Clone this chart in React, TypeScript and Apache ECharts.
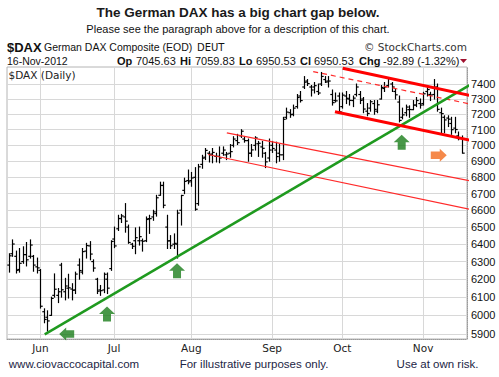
import React, { useEffect, useRef } from "react";
import * as echarts from "echarts";

// ---------- data ----------
const firstDay = "2012-05-21";
const lastDay = "2012-11-16";

function tradingDays(from: string, to: string): string[] {
  const out: string[] = [];
  const d = new Date(from + "T12:00:00Z");
  const end = new Date(to + "T12:00:00Z");
  while (d <= end) {
    const wd = d.getUTCDay();
    if (wd !== 0 && wd !== 6) out.push(d.toISOString().slice(0, 10));
    d.setUTCDate(d.getUTCDate() + 1);
  }
  return out;
}
const dates = tradingDays(firstDay, lastDay);

const opens = [
  6280, 6345, 6330, 6255, 6300, 6340, 6330, 6330, 6270,
  6250, 6020, 5990, 6000, 6110, 6110, 6280, 6130, 6150, 6145, 6140, 6280, 6240, 6360, 6390, 6300, 6200, 6140, 6140, 6200, 6260,
  6430, 6490, 6550, 6560, 6500, 6400, 6420, 6420, 6420, 6420, 6550, 6560, 6580, 6690, 6750, 6500, 6420, 6400, 6400, 6600, 6720, 6780,
  6780, 6800, 6640, 6880, 6925, 6950, 6945, 6930, 6930, 6950, 6940, 6950, 7000, 7030, 7060, 7040, 7030, 6950, 7000, 7010, 6990, 6950, 6920,
  7000, 6970, 6950, 6940, 7180, 7210, 7200, 7250, 7320, 7380, 7420, 7380, 7380, 7350, 7400, 7430, 7420, 7330, 7290, 7320,
  7250, 7320, 7300, 7290, 7330, 7330, 7300, 7220, 7240, 7270, 7220, 7300, 7370, 7390, 7400, 7350, 7280, 7180, 7210, 7230, 7230, 7260, 7270,
  7270, 7350, 7330, 7330, 7380, 7210, 7180, 7175, 7140, 7110, 7060, 7045.63,
];
const highs = [
  6345, 6425, 6360, 6375, 6385, 6410, 6425, 6335, 6320,
  6255, 6036, 6025, 6100, 6230, 6148, 6290, 6205, 6228, 6175, 6240, 6315, 6375, 6405, 6415, 6310, 6205, 6165, 6235, 6235, 6420,
  6500, 6570, 6575, 6640, 6512, 6405, 6495, 6500, 6430, 6560, 6570, 6600, 6690, 6770, 6770, 6570, 6450, 6460, 6600, 6690, 6795, 6845,
  6830, 6860, 6880, 6937, 6980, 6960, 6980, 6950, 6990, 6990, 6955, 7005, 7055, 7070, 7100, 7055, 7040, 7005, 7055, 7025, 7025, 6955, 7040,
  7025, 7020, 7005, 7180, 7240, 7230, 7260, 7330, 7350, 7450, 7430, 7390, 7410, 7400, 7478, 7450, 7450, 7360, 7340, 7340,
  7340, 7350, 7330, 7320, 7400, 7350, 7310, 7270, 7290, 7290, 7290, 7390, 7410, 7440, 7410, 7370, 7320, 7240, 7260, 7255, 7290, 7310, 7300,
  7345, 7390, 7345, 7430, 7400, 7240, 7190, 7190, 7180, 7180, 7085, 7059.83,
];
const lows = [
  6240, 6330, 6235, 6240, 6290, 6275, 6320, 6245, 6235,
  6040, 5960, 5915, 6000, 6100, 6070, 6100, 6085, 6095, 6085, 6120, 6200, 6230, 6320, 6310, 6245, 6120, 6110, 6125, 6120, 6250,
  6380, 6480, 6527, 6470, 6405, 6375, 6345, 6395, 6360, 6415, 6463, 6540, 6565, 6690, 6615, 6375, 6375, 6375, 6320, 6512, 6700, 6760,
  6745, 6600, 6630, 6856, 6910, 6895, 6890, 6895, 6890, 6937, 6910, 6925, 6990, 7005, 7050, 7020, 6900, 6930, 6970, 6930, 6925, 6860, 6900,
  6955, 6890, 6900, 6910, 7170, 7180, 7190, 7240, 7280, 7370, 7390, 7320, 7340, 7330, 7390, 7410, 7380, 7260, 7280, 7215,
  7240, 7270, 7260, 7250, 7320, 7270, 7210, 7190, 7220, 7200, 7210, 7300, 7350, 7380, 7350, 7300, 7150, 7170, 7190, 7180, 7230, 7250, 7240,
  7260, 7320, 7290, 7300, 7220, 7080, 7080, 7120, 7070, 7080, 7035, 6950.53,
];
const closes = [
  6333, 6401, 6250, 6290, 6340, 6310, 6395, 6280, 6264,
  6050, 5978, 5970, 6093, 6144, 6130, 6141, 6162, 6152, 6138, 6229, 6249, 6357, 6392, 6343, 6263, 6133, 6136, 6228, 6150, 6416,
  6390, 6551, 6566, 6535, 6410, 6388, 6438, 6444, 6417, 6545, 6550, 6590, 6675, 6750, 6630, 6419, 6391, 6405, 6583, 6689, 6775, 6772,
  6796, 6606, 6865, 6919, 6968, 6940, 6955, 6930, 6920, 6970, 6945, 6960, 7040, 7017, 7090, 7030, 6950, 6971, 7047, 7013, 6981, 6896, 6970,
  6980, 6929, 6940, 7167, 7214, 7197, 7240, 7310, 7290, 7412, 7403, 7360, 7389, 7340, 7451, 7413, 7420, 7276, 7288, 7216,
  7326, 7305, 7291, 7306, 7380, 7291, 7234, 7205, 7282, 7232, 7262, 7377, 7380, 7437, 7380, 7328, 7160, 7196, 7247, 7231, 7260, 7290, 7260,
  7335, 7363, 7327, 7377, 7232, 7204, 7163, 7168, 7100, 7101, 7043, 6950.53,
];

const yTicks = [5900, 6000, 6100, 6200, 6300, 6400, 6500, 6600, 6700, 6800, 6900, 7000, 7100, 7200, 7300, 7400];
const monthLabels = ["Jun", "Jul", "Aug", "Sep", "Oct", "Nov"];

// trend lines: [trading-day index, price]
const greenTrend = [[10.24, 5898], [131.6, 7397]];
const redChannelTop = [[95.1, 7507], [139.6, 7282]];
const redChannelBottom = [[92.9, 7216], [139.6, 6994]];
const redDashed = [[86.7, 7484], [139.6, 7228]];
const augChannelTop = [[62.1, 7079], [139.6, 6744]];
const augChannelBottom = [[56.8, 6942], [139.6, 6569]];

// annotation arrows: [trading-day index, price]
const upArrows = [[27.98, 6008], [47.92, 6248], [111.9, 7020]];
const leftArrows = [[16.5, 5900]];
const rightArrows = [[122.46, 6937]];

// ---------- derived ----------
const monthStarts: number[] = [];
dates.forEach((d, i) => {
  if (i > 0 && d.slice(5, 7) !== dates[i - 1].slice(5, 7)) monthStarts.push(i);
});
const monthLabelAt: Record<number, string> = {};
monthStarts.forEach((idx, k) => (monthLabelAt[idx] = monthLabels[k]));

const ohlc = dates.map((_, i) => [i, opens[i], highs[i], lows[i], closes[i]]);

const FONT = '"Liberation Sans", Arial, sans-serif';
const VFONT = '"DejaVu Sans", Verdana, sans-serif';

export default function App() {
  const ref = useRef<HTMLDivElement>(null);

  useEffect(() => {
    if (!ref.current) return;
    const chart = echarts.init(ref.current, undefined, { renderer: "svg" });
    const txt = (
      text: string,
      x: number,
      y: number,
      font: string,
      fill = "#111",
      align = "left"
    ) => ({
      type: "text",
      x,
      y,
      silent: true,
      style: { text, font, fill, textAlign: align, textVerticalAlign: "middle", verticalAlign: "middle" },
    });

    const option: any = {
      animation: false,
      backgroundColor: "#ffffff",
      grid: {
        left: 7,
        right: 32,
        top: 67,
        bottom: 38,
        show: true,
        borderColor: "#b4b4b4",
        borderWidth: 1,
        backgroundColor: "transparent",
      },
      xAxis: {
        type: "value",
        min: -0.5,
        max: dates.length + 0.5,
        axisLine: { show: true, onZero: false, lineStyle: { color: "#9a9a9a", type: "dotted" } },
        axisTick: { show: false, customValues: monthStarts },
        axisLabel: {
          customValues: monthStarts,
          formatter: (v: number) => monthLabelAt[Math.round(v)] || "",
          margin: 3,
          fontSize: 10.5,
          fontFamily: VFONT,
          color: "#222",
        },
        splitLine: { show: true, lineStyle: { color: "#d8d8d8", width: 1 } },
      },
      yAxis: {
        type: "log",
        logBase: 10,
        position: "right",
        min: 5873,
        max: 7515,
        axisLine: { show: true, onZero: false, lineStyle: { color: "#9a9a9a", type: "dotted" } },
        axisTick: { show: false, customValues: yTicks },
        axisLabel: {
          customValues: yTicks,
          formatter: (v: number) => String(Math.round(v)),
          margin: 4,
          fontSize: 11,
          fontFamily: FONT,
          color: "#111",
        },
        splitLine: { show: true, lineStyle: { color: "#d8d8d8", width: 1 } },
      },
      series: [
        {
          type: "custom",
          data: ohlc,
          encode: { x: 0, y: [1, 2, 3, 4] },
          z: 2,
          silent: true,
          renderItem: (_p: any, api: any) => {
            const x = api.value(0);
            const o = api.coord([x, api.value(1)]);
            const h = api.coord([x, api.value(2)]);
            const l = api.coord([x, api.value(3)]);
            const c = api.coord([x, api.value(4)]);
            const px = Math.round(h[0]) + 0.5;
            const st = { stroke: "#000", lineWidth: 1.2 };
            return {
              type: "group",
              children: [
                { type: "line", shape: { x1: px, y1: h[1] - 0.5, x2: px, y2: l[1] + 0.5 }, style: st },
                { type: "line", shape: { x1: px - 2.2, y1: o[1], x2: px, y2: o[1] }, style: st },
                { type: "line", shape: { x1: px, y1: c[1], x2: px + 2.2, y2: c[1] }, style: st },
              ],
            };
          },
        },
        {
          type: "line",
          data: augChannelTop,
          symbol: "none",
          clip: false,
          z: 4,
          silent: true,
          lineStyle: { color: "#ff2a2a", width: 1.2 },
        },
        {
          type: "line",
          data: augChannelBottom,
          symbol: "none",
          clip: false,
          z: 4,
          silent: true,
          lineStyle: { color: "#ff2a2a", width: 1.2 },
        },
        {
          type: "line",
          data: redDashed,
          symbol: "none",
          clip: false,
          z: 4,
          silent: true,
          lineStyle: { color: "#ff2a2a", width: 1.2, type: [5, 4] },
        },
        {
          type: "line",
          data: greenTrend,
          symbol: "none",
          clip: false,
          z: 5,
          silent: true,
          lineStyle: { color: "#1f9a1f", width: 2.5 },
        },
        {
          type: "line",
          data: redChannelTop,
          symbol: "none",
          clip: false,
          z: 5,
          silent: true,
          lineStyle: { color: "#ff0000", width: 3 },
        },
        {
          type: "line",
          data: redChannelBottom,
          symbol: "none",
          clip: false,
          z: 5,
          silent: true,
          lineStyle: { color: "#ff0000", width: 3 },
        },
        {
          type: "scatter",
          data: upArrows,
          symbol: "path://M8,0 L16,7.5 L12,7.5 L12,15 L4,15 L4,7.5 L0,7.5 Z",
          symbolSize: [16, 15],
          itemStyle: { color: "#1a7d1a" },
          z: 6,
          silent: true,
        },
        {
          type: "scatter",
          data: leftArrows,
          symbol: "path://M0,6.5 L7,0 L7,2.8 L15,2.8 L15,10.2 L7,10.2 L7,13 Z",
          symbolSize: [15, 13],
          itemStyle: { color: "#1a7d1a" },
          z: 6,
          silent: true,
        },
        {
          type: "scatter",
          data: rightArrows,
          symbol: "path://M16,6.5 L9,0 L9,2.8 L0,2.8 L0,10.2 L9,10.2 L9,13 Z",
          symbolSize: [16, 13],
          itemStyle: { color: "#f26b1d" },
          z: 6,
          silent: true,
        },
      ],
      graphic: [
        txt("The German DAX has a big chart gap below.", 238, 12.5, `bold 13.5px ${FONT}`, "#1a1a1a", "center"),
        txt("Please see the paragraph above for a description of this chart.", 238, 28.5, `11px ${FONT}`, "#111", "center"),
        txt("$DAX", 7, 47, `bold 13px ${FONT}`, "#111"),
        txt("German DAX Composite (EOD)", 44, 47, `10.5px ${FONT}`, "#111"),
        txt("DEUT", 197, 47.5, `10px ${VFONT}`, "#111"),
        txt("\u00A9 StockCharts.com", 467, 47, `10.5px ${VFONT}`, "#333", "right"),
        txt("16-Nov-2012", 7, 61, `10.5px ${FONT}`, "#111"),
        txt("Op", 117, 61, `bold 11px ${FONT}`, "#111"),
        txt("7045.63", 136, 61, `11px ${FONT}`, "#111"),
        txt("Hi", 180, 61, `bold 11px ${FONT}`, "#111"),
        txt("7059.83", 195, 61, `11px ${FONT}`, "#111"),
        txt("Lo", 239, 61, `bold 11px ${FONT}`, "#111"),
        txt("6950.53", 256, 61, `11px ${FONT}`, "#111"),
        txt("Cl", 300, 61, `bold 11px ${FONT}`, "#111"),
        txt("6950.53", 314, 61, `11px ${FONT}`, "#111"),
        txt("Chg", 359, 61, `bold 11px ${FONT}`, "#111"),
        txt("-92.89 (-1.32%)", 383, 61, `11px ${FONT}`, "#111"),
        {
          type: "polygon",
          silent: true,
          shape: { points: [[460, 59], [467, 59], [463.5, 63]] },
          style: { fill: "#a0102e" },
        },
        txt("$DAX (Daily)", 8.5, 75, `10.5px ${VFONT}`, "#222"),
        txt("www.ciovaccocapital.com", 74, 363.5, `11.5px ${FONT}`, "#1c2545", "center"),
        txt("For illustrative purposes only.", 254, 363.5, `11.5px ${FONT}`, "#1c2545", "center"),
        txt("Use at own risk.", 437.5, 363.5, `11.5px ${FONT}`, "#1c2545", "center"),
      ],
    };
    chart.setOption(option);
    return () => chart.dispose();
  }, []);

  return (
    <div
      ref={ref}
      style={{ position: "fixed", left: 0, top: 0, width: 499, height: 377, background: "#fff" }}
    />
  );
}
